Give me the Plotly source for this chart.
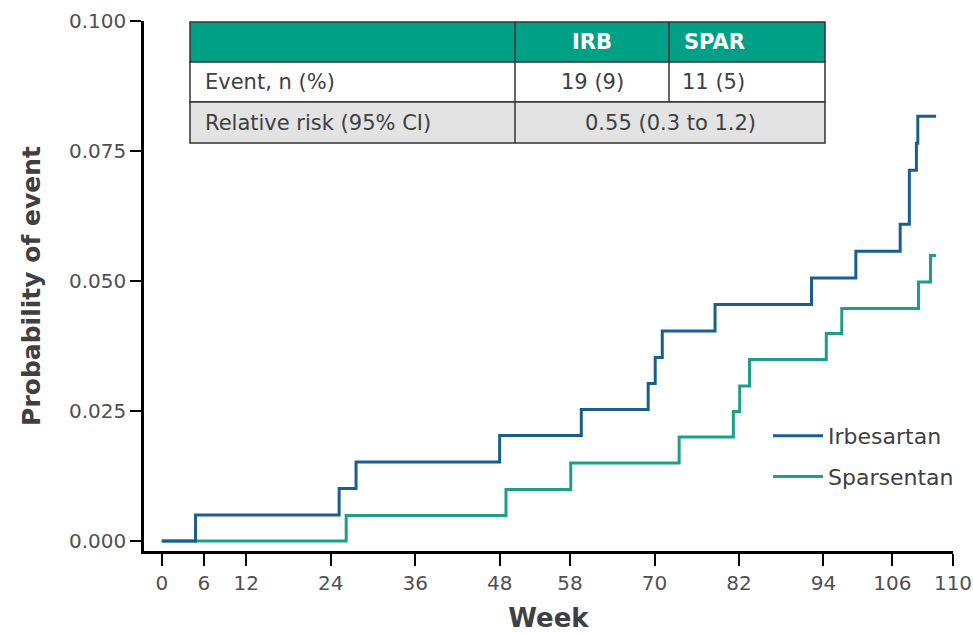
import plotly.graph_objects as go

# Kaplan-Meier style cumulative event probability by week
irb_weeks = [0, 4.8, 25.2, 27.6, 48.0, 59.6, 69.1, 70.1, 71.1, 78.6, 92.3, 98.6, 104.9, 106.2, 107.2, 107.4, 110.0]
irb_prob = [0, 0.0050, 0.0101, 0.0152, 0.0203, 0.0253, 0.0303, 0.0353, 0.0404, 0.0455, 0.0506, 0.0557, 0.0609,
            0.0713, 0.0765, 0.0817, 0.0817]

spar_weeks = [0, 26.2, 48.9, 58.1, 73.5, 81.2, 82.1, 83.5, 94.4, 96.6, 107.5, 109.2, 110.0]
spar_prob = [0, 0.0049, 0.0099, 0.0150, 0.0200, 0.0249, 0.0298, 0.0349, 0.0399, 0.0447, 0.0498, 0.0549, 0.0549]

x_tick_labels = ["0", "6", "12", "24", "36", "48", "58", "70", "82", "94", "106", "110"]
y_tick_labels = ["0.000", "0.025", "0.050", "0.075", "0.100"]

# summary table contents
table_header = ["", "IRB", "SPAR"]
table_events = ["Event, n (%)", "19 (9)", "11 (5)"]
table_rr = ["Relative risk (95% CI)", "0.55 (0.3 to 1.2)"]

IRB_COLOR = "#1b5e8e"
SPAR_COLOR = "#1d9e89"
HEADER_COLOR = "#00a086"
FONT = "DejaVu Sans"

fig = go.Figure()
fig.add_trace(go.Scatter(x=spar_weeks, y=spar_prob, mode="lines", line=dict(shape="hv", color=SPAR_COLOR, width=3),
                         name="Sparsentan", legendrank=2, legendgroup="spar"))
fig.add_trace(go.Scatter(x=irb_weeks, y=irb_prob, mode="lines", line=dict(shape="hv", color=IRB_COLOR, width=3),
                         name="Irbesartan", legendrank=1, legendgroup="irb"))

# plot-area geometry in pixels, used to place the table
W, H = 973, 633
L, R, T, B = 144, 20, 21, 82
pw, ph = W - L - R, H - T - B


def px(xp):
    return (xp - L) / pw


def py(yp):
    return (H - B - yp) / ph


shapes = []
annotations = []
tx0, tx1, tx2, tx3 = 190, 515, 669, 825
ty0, ty1, ty2, ty3 = 22, 62, 102, 143
edge = dict(color="#333333", width=1.5)
shapes.append(dict(type="rect", xref="paper", yref="paper", x0=px(tx0), x1=px(tx3), y0=py(ty1), y1=py(ty0),
                   fillcolor=HEADER_COLOR, line=edge, layer="above"))
shapes.append(dict(type="rect", xref="paper", yref="paper", x0=px(tx0), x1=px(tx3), y0=py(ty2), y1=py(ty1),
                   fillcolor="white", line=edge, layer="above"))
shapes.append(dict(type="rect", xref="paper", yref="paper", x0=px(tx0), x1=px(tx3), y0=py(ty3), y1=py(ty2),
                   fillcolor="#e3e3e3", line=edge, layer="above"))
for xv, yt, yb in [(tx1, ty0, ty3), (tx2, ty0, ty2)]:
    shapes.append(dict(type="line", xref="paper", yref="paper", x0=px(xv), x1=px(xv), y0=py(yb), y1=py(yt),
                       line=edge, layer="above"))

cell_font = dict(family=FONT, size=21, color="#404040")
head_font = dict(family=FONT, size=21, color="white", weight="bold")
annotations.append(dict(text=table_header[1], x=px((tx1 + tx2) / 2), y=py((ty0 + ty1) / 2), font=head_font))
annotations.append(dict(text=table_header[2], x=px((tx2 + tx3) / 2), y=py((ty0 + ty1) / 2), font=head_font))
annotations.append(dict(text=table_events[0], x=px(tx0 + 13), y=py((ty1 + ty2) / 2), xanchor="left", font=cell_font))
annotations.append(dict(text=table_events[1], x=px((tx1 + tx2) / 2), y=py((ty1 + ty2) / 2), font=cell_font))
annotations.append(dict(text=table_events[2], x=px((tx2 + tx3) / 2), y=py((ty1 + ty2) / 2), font=cell_font))
annotations.append(dict(text=table_rr[0], x=px(tx0 + 13), y=py((ty2 + ty3) / 2), xanchor="left", font=cell_font))
annotations.append(dict(text=table_rr[1], x=px((tx1 + tx3) / 2), y=py((ty2 + ty3) / 2), font=cell_font))
for a in annotations:
    a.update(xref="paper", yref="paper", showarrow=False, yanchor="middle")

# tick placement along the week axis
x_tick_pos = [0, 6, 12, 24, 36, 48, 58, 70, 82, 94, 103.8, 112.4]
y_tick_pos = [0, 0.025, 0.05, 0.075, 0.1]

fig.update_layout(
    width=W, height=H,
    margin=dict(l=L, r=R, t=T, b=B, autoexpand=False),
    paper_bgcolor="white", plot_bgcolor="white",
    font=dict(family=FONT, color="#505050"),
    showlegend=True,
    legend=dict(x=px(768), y=py(415), xanchor="left", yanchor="top", bgcolor="rgba(0,0,0,0)",
                font=dict(family=FONT, size=22, color="#404040"), tracegroupgap=9, itemwidth=50),
    shapes=shapes,
    annotations=annotations,
    xaxis=dict(range=[-2.52, 112.4], tickmode="array", tickvals=x_tick_pos, ticktext=x_tick_labels,
               showline=True, linecolor="black", linewidth=2.5, ticks="outside", ticklen=12, tickwidth=2,
               tickcolor="black", showgrid=False, zeroline=False, automargin=False,
               tickfont=dict(family=FONT, size=20, color="#505050"),
               title=dict(text="Week", font=dict(family=FONT, size=26, color="#404040", weight="bold"), standoff=17)),
    yaxis=dict(range=[-0.00192, 0.1], tickmode="array", tickvals=y_tick_pos, ticktext=y_tick_labels,
               showline=True, linecolor="black", linewidth=2.5, ticks="outside", ticklen=11, tickwidth=2,
               tickcolor="black", showgrid=False, zeroline=False, automargin=False,
               tickfont=dict(family=FONT, size=20, color="#505050"),
               title=dict(text="Probability of event", font=dict(family=FONT, size=25, color="#404040", weight="bold"),
                          standoff=22)),
)

fig.write_html("out.html")
